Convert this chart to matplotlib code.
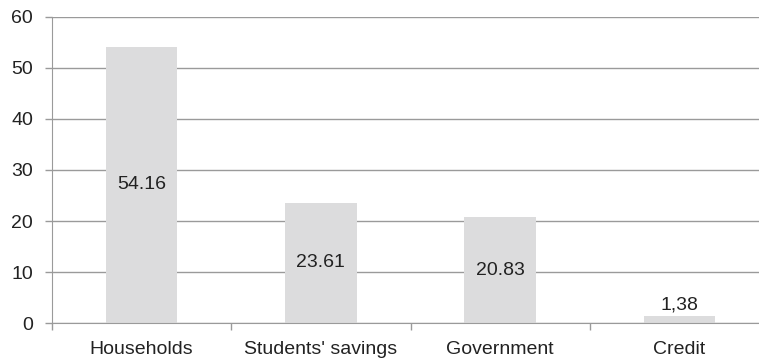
import matplotlib.pyplot as plt
import numpy as np

categories = ["Households", "Students' savings", "Government", "Credit"]
values = [54.16, 23.61, 20.83, 1.38]
value_labels = ["54.16", "23.61", "20.83", "1,38"]
y_ticks = [0, 10, 20, 30, 40, 50, 60]

plt.rcParams['font.family'] = ['Liberation Sans', 'DejaVu Sans']

fig = plt.figure(figsize=(7.59, 3.59), dpi=100)
# plot area runs a bit past the right edge of the figure
ax = fig.add_axes([52 / 759, 35.7 / 359, 717 / 759, 306.6 / 359])

grid_color = "#9a9a9a"
text_color = "#222222"
fs = 14

x = np.arange(len(categories))
ax.bar(x, values, width=0.40, color="#dcdcdd", zorder=2)

for xi, v, lab in zip(x, values, value_labels):
    if v > 5:
        ax.text(xi, v / 2, lab, ha="center", va="center", fontsize=fs, color=text_color, zorder=3)
    else:
        ax.text(xi, v + 0.6, lab, ha="center", va="bottom", fontsize=fs, color=text_color, zorder=3)

ax.set_xlim(-0.5, len(categories) - 0.5)
ax.set_ylim(0, 60)
ax.set_yticks(y_ticks)
ax.yaxis.grid(True, color=grid_color, linewidth=1.0, zorder=1)

# labels at the bar centres, tick marks at the category boundaries
ax.set_xticks(x)
ax.set_xticklabels(categories)
ax.set_xticks(np.arange(len(categories)) - 0.5, minor=True)
ax.tick_params(axis="x", which="major", length=0, pad=13, labelsize=fs, labelcolor=text_color)
ax.tick_params(axis="x", which="minor", length=5, width=1.0, color=grid_color, direction="out")
ax.tick_params(axis="y", length=5, width=1.0, color=grid_color, pad=8.5, labelsize=fs, labelcolor=text_color)

for side in ["top", "right"]:
    ax.spines[side].set_visible(False)
ax.spines["left"].set_color(grid_color)
ax.spines["bottom"].set_color(grid_color)
ax.spines["left"].set_bounds(0, 60)

plt.savefig("out.png", dpi=100)
